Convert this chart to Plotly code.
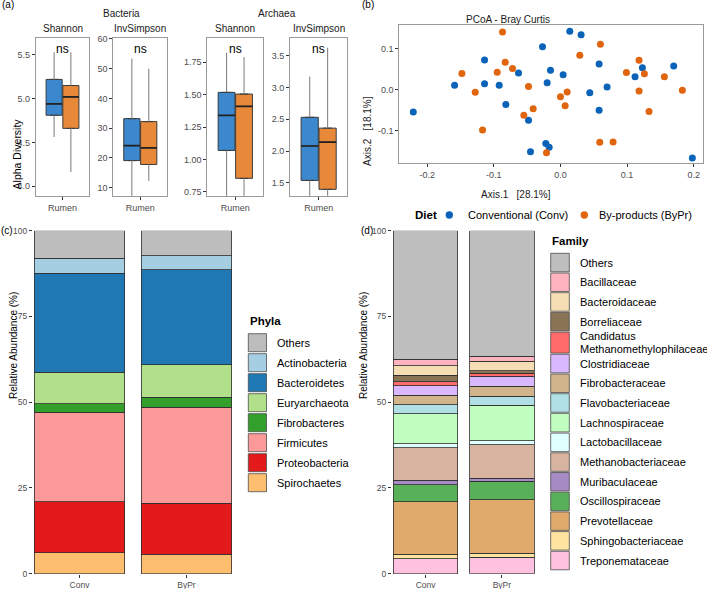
import plotly.graph_objects as go

W, H = 707, 589
def X(px): return px / W
def Y(py): return 1 - py / H

FONT = "Liberation Sans, Arial, sans-serif"
TICKC = "#4d4d4d"

# ---------------- (a) alpha diversity (box statistics) ----------------
diets = ["Conventional (Conv)", "By-products (ByPr)"]
alpha_groups = ["Bacteria", "Archaea"]
alpha_metrics = ["Shannon", "InvSimpson", "Shannon", "InvSimpson"]
conv_lower = [4.56, 6.0, 0.70, 1.25]
conv_q1 = [4.81, 19.1, 1.07, 1.54]
conv_median = [4.94, 24.1, 1.34, 2.08]
conv_q3 = [5.22, 33.2, 1.518, 2.53]
conv_upper = [5.53, 53.4, 1.824, 3.17]
bypr_lower = [4.16, 12.2, 0.70, 1.25]
bypr_q1 = [4.66, 17.8, 0.855, 1.40]
bypr_median = [5.02, 23.4, 1.41, 2.14]
bypr_q3 = [5.15, 32.2, 1.505, 2.36]
bypr_upper = [5.53, 50.0, 1.79, 3.62]
alpha_tickvals = [[4.0, 4.5, 5.0, 5.5], [10, 20, 30, 40, 50, 60],
                  [0.75, 1.0, 1.25, 1.5, 1.75], [1.5, 2.0, 2.5, 3.0, 3.5]]
alpha_ticktext = [["4.0", "4.5", "5.0", "5.5"], ["10", "20", "30", "40", "50", "60"],
                  ["0.75", "1.00", "1.25", "1.50", "1.75"], ["1.5", "2.0", "2.5", "3.0", "3.5"]]
sig_labels = ["ns", "ns", "ns", "ns"]

# ---------------- (b) PCoA ----------------
conv_axis1 = [0.014, 0.031, -0.027, 0.058, 0.123, 0.170, -0.015, -0.063, 0.004, 0.112,
              -0.020, -0.092, 0.070, 0.044, -0.082, 0.058, -0.048, -0.022, -0.017, -0.045,
              0.198, -0.221, -0.159, -0.114, -0.114]
conv_axis2 = [0.142, 0.133, 0.104, 0.062, 0.053, 0.057, 0.047, 0.040, 0.036, 0.031,
              0.016, 0.010, 0.006, -0.008, -0.037, -0.051, -0.075, -0.132, -0.141, -0.152,
              -0.167, -0.055, 0.010, 0.072, 0.014]
bypr_axis1 = [-0.087, 0.060, 0.029, -0.083, 0.118, -0.072, 0.099, 0.126, 0.156, -0.048,
              0.010, 0.118, 0.183, 0.000, -0.041, 0.007, -0.055, 0.133, 0.059, 0.079,
              -0.021, -0.148, -0.128, -0.117, -0.095]
bypr_axis2 = [0.140, 0.110, 0.083, 0.066, 0.071, 0.051, 0.041, 0.038, 0.031, 0.007,
              -0.006, -0.004, -0.002, -0.018, -0.047, -0.040, -0.063, -0.054, -0.129, -0.128,
              -0.154, 0.039, -0.007, -0.099, 0.042]

# ---------------- (c) phyla ----------------
samples = ["Conv", "ByPr"]
phyla = ["Others", "Actinobacteria", "Bacteroidetes", "Euryarchaeota", "Fibrobacteres",
         "Firmicutes", "Proteobacteria", "Spirochaetes"]
phyla_conv = [8.0, 4.4, 28.8, 9.3, 2.5, 26.0, 14.9, 6.1]
phyla_bypr = [7.3, 4.1, 27.7, 9.5, 2.9, 27.9, 15.0, 5.6]
phyla_colors = ["#BDBDBD", "#A6CEE3", "#1F78B4", "#B2DF8A", "#33A02C", "#FB9A99", "#E31A1C", "#FDBF6F"]

# ---------------- (d) family ----------------
families = ["Others", "Bacillaceae", "Bacteroidaceae", "Borreliaceae",
            "Candidatus\nMethanomethylophilaceae", "Clostridiaceae", "Fibrobacteraceae",
            "Flavobacteriaceae", "Lachnospiraceae", "Lactobacillaceae", "Methanobacteriaceae",
            "Muribaculaceae", "Oscillospiraceae", "Prevotellaceae", "Sphingobacteriaceae",
            "Treponemataceae"]
family_conv = [37.5, 1.9, 2.8, 1.8, 1.2, 2.8, 2.8, 2.5, 8.8, 1.2, 9.5, 1.2, 5.0, 15.4, 1.2, 4.4]
family_bypr = [36.6, 1.5, 2.8, 0.7, 0.9, 2.8, 3.0, 2.6, 10.4, 1.1, 9.7, 1.0, 5.3, 15.6, 1.2, 4.8]
family_colors = ["#BEBEBE", "#FFB3BF", "#F5DEB3", "#8B7355", "#FF6A6A", "#D9B8FF", "#D2B48C",
                 "#B0E0E6", "#C1FFC1", "#E0FFFF", "#D8B4A0", "#A68AC4", "#58B158", "#E0AA6A",
                 "#FFE4A0", "#FFC1E0"]

diet_box_colors = ["#3B88CF", "#E8893A"]
diet_point_colors = ["#0A63B8", "#E0650F"]

fig = go.Figure()
layout = dict(width=W, height=H, autosize=False, margin=dict(l=0, r=0, t=0, b=0, pad=0),
              paper_bgcolor="white", plot_bgcolor="white", barmode="stack",
              font=dict(family=FONT, size=10, color="black"), showlegend=False)
shapes, annotations = [], []

def axname(k):
    return "" if k == 1 else str(k)

common_ax = dict(showgrid=False, zeroline=False, automargin=False, ticks="outside", ticklen=3,
                 tickcolor="#333", tickwidth=1)

# ---- (a) panels
panel_px = [(35.7, 89.3), (113.3, 167.3), (207.3, 263.3), (290.0, 347.3)]
top_a, bot_a = 38.3, 195.7
yranges = [[3.89, 5.69], [7.3, 60.2], [0.721, 1.935], [1.30, 3.77]]
box_pos = [0.8125, 1.1875]
box_w = 0.36
conv_stats = [conv_lower, conv_q1, conv_median, conv_q3, conv_upper]
bypr_stats = [bypr_lower, bypr_q1, bypr_median, bypr_q3, bypr_upper]
for i in range(4):
    k = i + 1
    xa, ya = "x" + axname(k), "y" + axname(k)
    for d, stats in enumerate([conv_stats, bypr_stats]):
        lo, q1, med, q3, up = [s[i] for s in stats]
        p = box_pos[d]
        fig.add_trace(go.Scatter(x=[p, p, None, p, p], y=[up, q3, None, q1, lo], mode="lines",
                                 line=dict(color="#858585", width=1.1), xaxis=xa, yaxis=ya,
                                 hoverinfo="skip"))
        fig.add_trace(go.Box(x=[p], q1=[q1], median=[med], q3=[q3], lowerfence=[q1], upperfence=[q3],
                             width=box_w, fillcolor=diet_box_colors[d],
                             line=dict(color="#3a3a3a", width=1), xaxis=xa, yaxis=ya,
                             hoverinfo="skip"))
        fig.add_trace(go.Scatter(x=[p - box_w / 2, p + box_w / 2], y=[med, med], mode="lines",
                                 line=dict(color="#222222", width=1.7), xaxis=xa, yaxis=ya,
                                 hoverinfo="skip"))
    x0, x1 = panel_px[i]
    layout["xaxis" + axname(k)] = dict(domain=[X(x0), X(x1)], anchor=ya, range=[0.4, 1.6],
                                       tickvals=[1], ticktext=["Rumen"], showline=True, mirror=True,
                                       linecolor="#9a9a9a", linewidth=1,
                                       tickfont=dict(size=9, color=TICKC), **common_ax)
    layout["yaxis" + axname(k)] = dict(domain=[Y(bot_a), Y(top_a)], anchor=xa, range=yranges[i],
                                       tickvals=alpha_tickvals[i], ticktext=alpha_ticktext[i],
                                       showline=True, mirror=True, linecolor="#9a9a9a", linewidth=1,
                                       tickfont=dict(size=9, color=TICKC), **common_ax)
    annotations.append(dict(text=alpha_metrics[i], x=X((x0 + x1) / 2), y=Y(28.3), xref="paper",
                            yref="paper", showarrow=False, xanchor="center", yanchor="middle",
                            font=dict(size=10, color="#1a1a1a")))
    annotations.append(dict(text=sig_labels[i], x=X((x0 + x1) / 2), y=Y(49.5), xref="paper",
                            yref="paper", showarrow=False, xanchor="center", yanchor="middle",
                            font=dict(size=12, color="black")))

annotations.append(dict(text=alpha_groups[0], x=X(101.5), y=Y(5.5), xref="paper", yref="paper",
                        showarrow=False, font=dict(size=10, color="#1a1a1a")))
annotations.append(dict(text=alpha_groups[1], x=X(277.3), y=Y(5.5), xref="paper", yref="paper",
                        showarrow=False, font=dict(size=10, color="#1a1a1a")))
annotations.append(dict(text="Alpha Diversity", x=X(9.2), y=Y(116.7), xref="paper", yref="paper",
                        showarrow=False, textangle=-90, font=dict(size=10.5, color="black")))

# ---- (b) PCoA
for d, (ax1, ax2) in enumerate([(conv_axis1, conv_axis2), (bypr_axis1, bypr_axis2)]):
    fig.add_trace(go.Scatter(x=ax1, y=ax2, mode="markers", name=diets[d], xaxis="x5", yaxis="y5",
                             marker=dict(color=diet_point_colors[d], size=7), hoverinfo="skip"))
layout["xaxis5"] = dict(domain=[X(399.3), X(703)], anchor="y5", range=[-0.242, 0.214],
                        tickvals=[-0.2, -0.1, 0.0, 0.1, 0.2], ticktext=["-0.2", "-0.1", "0.0", "0.1", "0.2"],
                        showline=True, mirror=True, linecolor="#9a9a9a", linewidth=1,
                        tickfont=dict(size=9, color=TICKC), **common_ax)
layout["yaxis5"] = dict(domain=[Y(163.3), Y(25)], anchor="x5", range=[-0.180, 0.157],
                        tickvals=[-0.1, 0.0, 0.1], ticktext=["-0.1", "0.0", "0.1"],
                        showline=True, mirror=True, linecolor="#9a9a9a", linewidth=1,
                        tickfont=dict(size=9, color=TICKC), **common_ax)
annotations.append(dict(text="PCoA - Bray Curtis", x=X(552), y=Y(12), xref="paper", yref="paper",
                        showarrow=False, font=dict(size=10, color="#1a1a1a")))
annotations.append(dict(text="Axis.1   [28.1%]", x=X(553), y=Y(187), xref="paper", yref="paper",
                        showarrow=False, font=dict(size=10, color="#1a1a1a")))
annotations.append(dict(text="Axis.2   [18.1%]", x=X(367.5), y=Y(94.5), xref="paper", yref="paper",
                        showarrow=False, textangle=-90, font=dict(size=10, color="#1a1a1a")))
# Diet legend (manual)
annotations.append(dict(text="<b>Diet</b>", x=X(412.5), y=Y(215), xref="paper", yref="paper",
                        showarrow=False, xanchor="left", yanchor="middle", font=dict(size=11.5, color="black")))
diet_dot_px = [449.3, 584.3]
diet_text_px = [465.5, 596.5]
for d in range(2):
    cx, r = diet_dot_px[d], 3.7
    shapes.append(dict(type="circle", xref="paper", yref="paper", x0=X(cx - r), x1=X(cx + r),
                       y0=Y(215 + r), y1=Y(215 - r), fillcolor=diet_point_colors[d],
                       line=dict(width=0)))
    annotations.append(dict(text=diets[d], x=X(diet_text_px[d]), y=Y(215), xref="paper", yref="paper",
                            showarrow=False, xanchor="left", yanchor="middle",
                            font=dict(size=11, color="black")))

# ---- (c) phyla stacked bars
bar_line = dict(color="#2e2e2e", width=0.8)
for j in reversed(range(len(phyla))):
    fig.add_trace(go.Bar(x=samples, y=[phyla_conv[j], phyla_bypr[j]], name=phyla[j],
                         marker=dict(color=phyla_colors[j], line=bar_line), width=0.845,
                         xaxis="x6", yaxis="y6", hoverinfo="skip"))
layout["xaxis6"] = dict(domain=[X(33), X(233)], anchor="y6", range=[-0.435, 1.435],
                        type="category", categoryorder="array", categoryarray=samples,
                        showline=False, tickfont=dict(size=8.5, color=TICKC), **common_ax)
layout["yaxis6"] = dict(domain=[Y(573.7), Y(230.7)], anchor="x6", range=[0, 100],
                        tickvals=[0, 25, 50, 75, 100], showline=False,
                        tickfont=dict(size=8.5, color=TICKC), **common_ax)
annotations.append(dict(text="Relative Abundance (%)", x=X(5.5), y=Y(401.5), xref="paper", yref="paper",
                        showarrow=False, textangle=-90, font=dict(size=10, color="black")))
annotations.append(dict(text="<b>Phyla</b>", x=X(248), y=Y(321), xref="paper", yref="paper",
                        showarrow=False, xanchor="left", yanchor="middle", font=dict(size=11.5, color="black")))
for i, (name, col) in enumerate(zip(phyla, phyla_colors)):
    y0 = 333.7 + 20 * i
    shapes.append(dict(type="rect", xref="paper", yref="paper", x0=X(248.3), x1=X(266.5),
                       y0=Y(y0 + 18), y1=Y(y0), fillcolor=col, line=dict(color="#4d4d4d", width=0.8)))
    annotations.append(dict(text=name, x=X(275), y=Y(y0 + 9), xref="paper", yref="paper",
                            showarrow=False, xanchor="left", yanchor="middle",
                            font=dict(size=11, color="black")))

# ---- (d) family stacked bars
for j in reversed(range(len(families))):
    fig.add_trace(go.Bar(x=samples, y=[family_conv[j], family_bypr[j]], name=families[j].replace("\n", " "),
                         marker=dict(color=family_colors[j], line=bar_line), width=0.848,
                         xaxis="x7", yaxis="y7", hoverinfo="skip"))
layout["xaxis7"] = dict(domain=[X(392), X(536)], anchor="y7", range=[-0.44, 1.447],
                        type="category", categoryorder="array", categoryarray=samples,
                        showline=False, tickfont=dict(size=8.5, color=TICKC), **common_ax)
layout["yaxis7"] = dict(domain=[Y(573.7), Y(230.7)], anchor="x7", range=[0, 100],
                        tickvals=[0, 25, 50, 75, 100], showline=False,
                        tickfont=dict(size=8.5, color=TICKC), **common_ax)
annotations.append(dict(text="Relative Abundance (%)", x=X(363), y=Y(401.5), xref="paper", yref="paper",
                        showarrow=False, textangle=-90, font=dict(size=10, color="black")))
annotations.append(dict(text="<b>Family</b>", x=X(550), y=Y(241), xref="paper", yref="paper",
                        showarrow=False, xanchor="left", yanchor="middle", font=dict(size=11.5, color="black")))
ycur = 253.3
for name, col in zip(families, family_colors):
    lines = name.split("\n")
    h = 21.0 if len(lines) > 1 else 18.5
    shapes.append(dict(type="rect", xref="paper", yref="paper", x0=X(550.7), x1=X(569.3),
                       y0=Y(ycur + h), y1=Y(ycur), fillcolor=col, line=dict(color="#4d4d4d", width=0.8)))
    if len(lines) == 1:
        annotations.append(dict(text=name, x=X(577.5), y=Y(ycur + h / 2), xref="paper", yref="paper",
                                showarrow=False, xanchor="left", yanchor="middle",
                                font=dict(size=11, color="black")))
    else:
        for li, ln in enumerate(lines):
            annotations.append(dict(text=ln, x=X(577.5), y=Y(ycur + 4.4 + 12.6 * li), xref="paper",
                                    yref="paper", showarrow=False, xanchor="left", yanchor="middle",
                                    font=dict(size=11, color="black")))
    ycur += h + 1.2

# ---- panel tags
for tag, px, py in [("(a)", 7.5, 4.8), ("(b)", 367.5, 4.8), ("(c)", 6.7, 230.7), ("(d)", 366.5, 230.5)]:
    annotations.append(dict(text=tag, x=X(px), y=Y(py), xref="paper", yref="paper", showarrow=False,
                            xanchor="center", yanchor="middle", font=dict(size=10, color="black")))

layout["shapes"] = shapes
layout["annotations"] = annotations
fig.update_layout(**layout)
fig.write_html("out.html")
